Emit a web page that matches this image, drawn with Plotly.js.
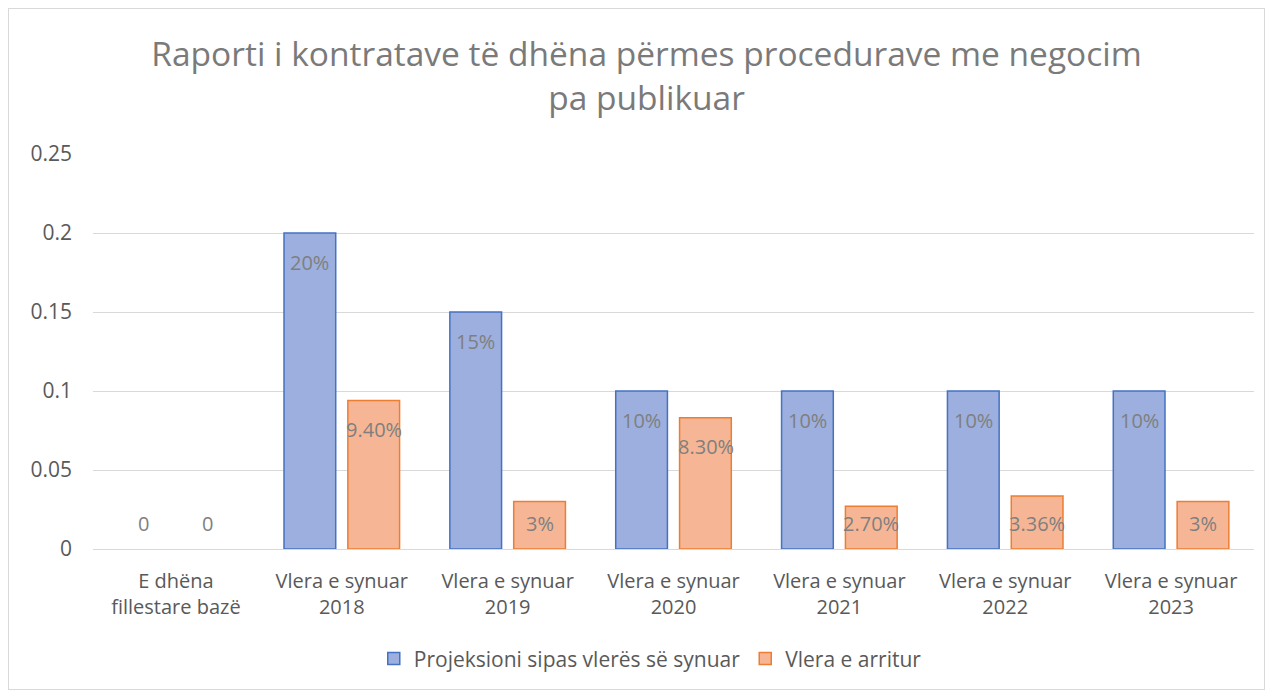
<!DOCTYPE html>
<html>
<head>
<meta charset="utf-8">
<script src="https://cdn.plot.ly/plotly-3.0.1.min.js"></script>
<style>
  html, body { margin: 0; padding: 0; background: #ffffff; }
  #frame { position: absolute; left: 8px; top: 8px; width: 1255px; height: 680px; border: 1px solid #d9d9d9; }
  #chart { width: 1255px; height: 680px; }
</style>
</head>
<body>
<div id="frame"><div id="chart"></div></div>
<script>
const categories = [
  "E dhëna<br>fillestare bazë",
  "Vlera e synuar<br>2018",
  "Vlera e synuar<br>2019",
  "Vlera e synuar<br>2020",
  "Vlera e synuar<br>2021",
  "Vlera e synuar<br>2022",
  "Vlera e synuar<br>2023"
];
const seriesNames = ["Projeksioni sipas vlerës së synuar", "Vlera e arritur"];
const projeksioni = [0, 0.20, 0.15, 0.10, 0.10, 0.10, 0.10];
const projeksioniLabels = ["0", "20%", "15%", "10%", "10%", "10%", "10%"];
const arritur = [0, 0.094, 0.03, 0.083, 0.027, 0.0336, 0.03];
const arriturLabels = ["0", "9.40%", "3%", "8.30%", "2.70%", "3.36%", "3%"];
const yTicks = [0, 0.05, 0.1, 0.15, 0.2, 0.25];
const yTickLabels = ["0", "0.05", "0.1", "0.15", "0.2", "0.25"];

const FONT = "Open Sans, Lato, sans-serif";
const labelColor = "#7f7f7f";

// zero-height bars have no visible outline in the original
function drawn(values) { return values.map(v => v === 0 ? null : v); }

const traces = [
  {
    type: "bar", name: seriesNames[0], x: categories, y: drawn(projeksioni),
    marker: { color: "#9cafde", line: { color: "#4472c4", width: 1.5 } },
    hoverinfo: "skip"
  },
  {
    type: "bar", name: seriesNames[1], x: categories, y: drawn(arritur),
    marker: { color: "#f6b695", line: { color: "#ed7d31", width: 1.5 } },
    hoverinfo: "skip"
  }
];

// Data labels, placed "inside end" like the original, never below the floor
const annotations = [];
function addLabels(values, labels, shift) {
  const yMax = 0.25, plotH = 399;
  values.forEach((v, i) => {
    const topPx = v / yMax * plotH;
    const insidePx = topPx - 29;
    const useFloor = insidePx < 26;
    annotations.push({
      x: categories[i], y: useFloor ? 0 : v, xref: "x", yref: "y",
      text: labels[i], showarrow: false, xshift: shift,
      yshift: useFloor ? 26 : -29, yanchor: "middle",
      font: { family: FONT, size: 20, color: labelColor }
    });
  });
}
addLabels(projeksioni, projeksioniLabels, -32);
addLabels(arritur, arriturLabels, 32);

const layout = {
  width: 1255, height: 680,
  paper_bgcolor: "#ffffff", plot_bgcolor: "#ffffff",
  margin: { l: 84, r: 10, t: 145, b: 138 },
  font: { family: FONT, color: "#595959" },
  title: {
    text: "Raporti i kontratave të dhëna përmes procedurave me negocim<br>pa publikuar",
    font: { family: FONT, size: 33.5, color: "#7a7a7a" },
    x: 0.508, xanchor: "center", xref: "container",
    y: 0.916, yanchor: "top", yref: "container"
  },
  barmode: "group", bargap: 0.23, bargroupgap: 0.19,
  xaxis: {
    type: "category",
    tickfont: { family: FONT, size: 20, color: "#595959" },
    showgrid: false, zeroline: false, showline: false,
    ticks: "", ticklabelstandoff: 18
  },
  yaxis: {
    range: [0, 0.25], tickvals: yTicks, ticktext: yTickLabels,
    tickfont: { family: FONT, size: 21, color: "#595959" },
    showgrid: true, gridcolor: "#d9d9d9", gridwidth: 1,
    zeroline: true, zerolinecolor: "#d9d9d9", zerolinewidth: 1,
    showline: false, ticks: "", ticklabelstandoff: 20
  },
  legend: {
    orientation: "h", x: 0.48, xanchor: "center", y: -0.278, yanchor: "middle",
    font: { family: FONT, size: 21, color: "#595959" },
    itemclick: false, traceorder: "normal", itemwidth: 30
  },
  annotations: annotations,
  showlegend: true
};

Plotly.newPlot("chart", traces, layout, { displayModeBar: false, staticPlot: true });
</script>
</body>
</html>
